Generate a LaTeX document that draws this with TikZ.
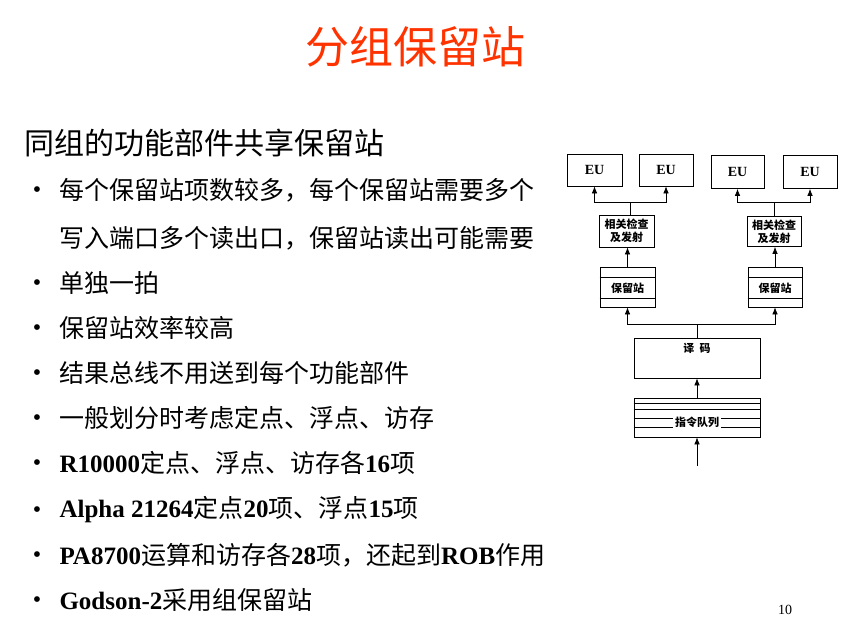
\documentclass[tikz,border=0pt]{standalone}
\usepackage{fontspec}
\usetikzlibrary{arrows.meta}
\setmainfont{Liberation Serif}
\newfontfamily\cjk{Noto Sans CJK SC}
\begin{document}
\begin{tikzpicture}[x=1pt,y=-1pt,
  box/.style={draw,line width=0.7pt,inner sep=0pt},
  arr/.style={-{Latex[length=7pt,width=5.5pt]},line width=0.7pt},
  ln/.style={line width=0.7pt},
  eut/.style={font=\bfseries\fontsize{14}{14}\selectfont},
  small/.style={font=\cjk\bfseries\fontsize{11}{13}\selectfont,align=center},
  bl/.style={anchor=west,font=\fontsize{25}{25}\selectfont}]
\useasboundingbox (0,0) rectangle (866,626);
\node (title) at (415,47) {\cjk\fontsize{44}{44}\selectfont\color[RGB]{255,51,0}分组保留站};
\node[anchor=west] (head) at (21,143) {\cjk\fontsize{30}{30}\selectfont 同组的功能部件共享保留站};
\foreach \y/\t [count=\i] in {
 190/{\cjk 每个保留站项数较多，每个保留站需要多个},
 283/{\cjk 单独一拍},
 328/{\cjk 保留站效率较高},
 373/{\cjk 结果总线不用送到每个功能部件},
 418/{\cjk 一般划分时考虑定点、浮点、访存},
 463/{\textbf{R10000}\cjk 定点、浮点、访存各\rmfamily\textbf{16}\cjk 项},
 510/{\textbf{Alpha 21264}\cjk 定点\rmfamily\textbf{20}\cjk 项、浮点\rmfamily\textbf{15}\cjk 项},
 555/{\textbf{PA8700}\cjk 运算和访存各\rmfamily\textbf{28}\cjk 项，还起到\rmfamily\textbf{ROB}\cjk 作用},
 600/{\textbf{Godson-2}\cjk 采用组保留站}}
 { \node[anchor=center] (b\i) at (37,\y+2) {\fontsize{24}{24}\selectfont\textbullet};
   \node[bl] (t\i) at (56,\y) {\t}; }
\node[bl] (t1b) at (56,238) {\cjk 写入端口多个读出口，保留站读出可能需要};
\node (pg) at (785,610) {\fontsize{14}{14}\selectfont 10};
% diagram
\node[box,minimum width=55,minimum height=32,eut] (eu1) at (594.5,170) {EU};
\node[box,minimum width=54,minimum height=32,eut] (eu2) at (666,170) {EU};
\node[box,minimum width=53,minimum height=33,eut] (eu3) at (737.5,172) {EU};
\node[box,minimum width=54,minimum height=33,eut] (eu4) at (810,172) {EU};
\node[box,minimum width=55,minimum height=32,small] (is1) at (626.5,231) {相关检查\\及发射};
\node[box,minimum width=54,minimum height=30,small] (is2) at (774,231.5) {相关检查\\及发射};
\node[box,minimum width=55,minimum height=40] (rs1) at (627.5,287) {};
\node[box,minimum width=54,minimum height=40] (rs2) at (775,287) {};
\foreach \r in {rs1,rs2}{
  \draw[ln] ([yshift=-11]\r.north west) -- ([yshift=-11]\r.north east);
  \draw[ln] ([yshift=9]\r.south west) -- ([yshift=9]\r.south east);
  \node[small,fill=white,inner sep=1pt] at ([yshift=-1]\r.center) {保留站};
}
\node[box,minimum width=126,minimum height=40] (dec) at (697,358) {};
\node[small,anchor=north] at ([yshift=-2]dec.north) {译\ \ 码};
\node[box,minimum width=126,minimum height=39] (q) at (697,417.5) {};
\foreach \d in {6,12,21,30}{\draw[ln] ([yshift=-\d]q.north west) -- ([yshift=-\d]q.north east);}
\node[small,fill=white,inner sep=2pt] at ([yshift=-5]q.center) {指令队列};
\coordinate (in) at (697,466);
\draw[arr] (in) -- (q.south);
\draw[arr] (q.north) -- (dec.south);
\coordinate (j1) at (697,324);
\draw[ln] (dec.north) -- (j1);
\draw[arr] (j1) -| (rs1.south);
\draw[arr] (j1) -| (rs2.south);
\draw[arr] (rs1.north) -- (is1.south -| rs1.north);
\draw[arr] (rs2.north) -- (is2.south -| rs2.north);
\coordinate (j2) at (630,202);
\coordinate (j3) at (774,202);
\draw[ln] (is1.north -| j2) -- (j2);
\draw[ln] (is2.north -| j3) -- (j3);
\draw[arr] (j2) -| (eu1.south);
\draw[arr] (j2) -| (eu2.south);
\draw[arr] (j3) -| (eu3.south);
\draw[arr] (j3) -| (eu4.south);
\end{tikzpicture}
\end{document}
